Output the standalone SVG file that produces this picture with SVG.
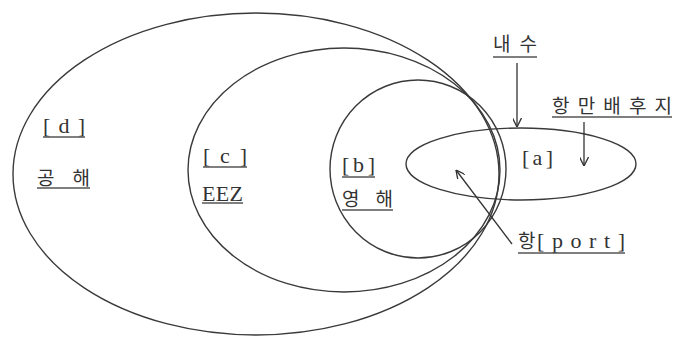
<svg xmlns="http://www.w3.org/2000/svg" width="677" height="340" viewBox="0 0 677 340">
<style>
.e{fill:none;stroke:#3a3a3a;stroke-width:1.4}
.t{font-family:"Liberation Serif","Noto Sans CJK KR",serif;font-size:22px;fill:#333}
.k{font-family:"Noto Sans CJK KR",sans-serif;font-size:19px;fill:#333}
.u{stroke:#555;stroke-width:1.3}
.c{stroke:#333;stroke-width:1.3;fill:none}
</style>
<defs>
<marker id="ah" viewBox="0 0 10 10" refX="10" refY="5" markerWidth="9" markerHeight="9" markerUnits="userSpaceOnUse" orient="auto">
<path d="M0,0 L10,5 L0,10" fill="none" stroke="#333" stroke-width="1.5"/>
</marker>
</defs>
<rect width="677" height="340" fill="#fff"/>
<g id="d">
<ellipse class="e" cx="256" cy="174" rx="243" ry="161"/>
<text class="t" x="43" y="133" textLength="42" lengthAdjust="spacing">[d]</text>
<line class="u" x1="43" y1="137" x2="85" y2="137"/>
<text class="k" x="37" y="185" textLength="53" lengthAdjust="spacing">공해</text>
<line class="u" x1="37" y1="188" x2="90" y2="188"/>
</g>
<g id="c">
<ellipse class="e" cx="344" cy="170" rx="156" ry="122"/>
<text class="t" x="203" y="163" textLength="44" lengthAdjust="spacing">[c]</text>
<line class="u" x1="203" y1="167" x2="247" y2="167"/>
<text class="t" x="202" y="201" textLength="41" lengthAdjust="spacing">EEZ</text>
<line class="u" x1="202" y1="203" x2="243" y2="203"/>
</g>
<g id="b">
<ellipse class="e" cx="418" cy="169" rx="88" ry="89"/>
<text class="t" x="342" y="172" textLength="33" lengthAdjust="spacing">[b]</text>
<line class="u" x1="342" y1="177" x2="375" y2="177"/>
<text class="k" x="342" y="206" textLength="51" lengthAdjust="spacing">영해</text>
<line class="u" x1="342" y1="210" x2="393" y2="210"/>
</g>
<g id="a">
<ellipse class="e" cx="521" cy="164" rx="115" ry="36"/>
<text class="t" x="522" y="165" textLength="31" lengthAdjust="spacing">[a]</text>
</g>
<g id="naesu">
<text class="k" x="493" y="51" textLength="44" lengthAdjust="spacing">내수</text>
<line class="u" x1="493" y1="57" x2="537" y2="57"/>
</g>
<g id="hinterland">
<text class="k" x="552" y="113" textLength="120" lengthAdjust="spacing">항만배후지</text>
<line class="u" x1="552" y1="117" x2="672" y2="117"/>
</g>
<g id="port">
<text x="518" y="248"><tspan class="k">항</tspan><tspan class="t" x="537" textLength="88" lengthAdjust="spacing">[port]</tspan></text>
<line class="u" x1="518" y1="253" x2="625" y2="253"/>
</g>
<g id="connectors">
<line class="c" x1="517" y1="63" x2="517" y2="127" marker-end="url(#ah)"/>
<line class="c" x1="584" y1="122" x2="584" y2="166" marker-end="url(#ah)"/>
<line class="c" x1="512" y1="244" x2="456" y2="170" marker-end="url(#ah)"/>
</g>
</svg>
